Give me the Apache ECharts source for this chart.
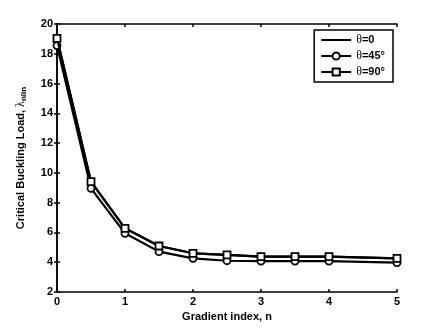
<!DOCTYPE html>
<html>
<head>
<meta charset="utf-8">
<script src="https://cdn.jsdelivr.net/npm/echarts@6/dist/echarts.min.js"></script>
<style>
  html, body { margin: 0; padding: 0; background: #fff; }
  #chart { width: 438px; height: 328px; }
</style>
</head>
<body>
<div id="chart"></div>
<script>
// gradient index values
const nValues = [0, 0.5, 1, 1.5, 2, 2.5, 3, 3.5, 4, 5];
// critical buckling load for each angle
const theta0 = [19.04, 9.41, 6.28, 5.09, 4.6, 4.49, 4.37, 4.37, 4.37, 4.26];
const theta45 = [18.55, 8.96, 5.94, 4.71, 4.26, 4.1, 4.08, 4.08, 4.08, 3.97];
const theta90 = [19.04, 9.41, 6.28, 5.09, 4.6, 4.49, 4.37, 4.37, 4.37, 4.26];
const xTicks = [0, 1, 2, 3, 4, 5];
const yTicks = [2, 4, 6, 8, 10, 12, 14, 16, 18, 20];

const font = "Liberation Sans, Arial, sans-serif";

function pairs(ys) {
  return nValues.map((n, i) => [n, ys[i]]);
}

let chart = echarts.init(document.getElementById("chart"));

const axisCommon = {
  axisLine: { show: true, lineStyle: { color: "#000", width: 1.5 } },
  axisTick: { show: true, inside: true, length: 3, lineStyle: { color: "#000", width: 1.5 } },
  splitLine: { show: false },
};

const hidden = "rgba(0,0,0,0)";

let option = {
  animation: false,
  backgroundColor: "#fff",
  grid: { left: 57, right: 41, top: 24, bottom: 36 },
  legend: {
    orient: "vertical",
    right: 45,
    top: 30,
    backgroundColor: "#fff",
    borderColor: "#000",
    borderWidth: 1.5,
    padding: [4, 8, 4, 6],
    itemGap: 4,
    itemWidth: 30,
    itemHeight: 9,
    textStyle: {
      fontFamily: font,
      fontWeight: "bold",
      fontSize: 11,
      color: "#000",
      rich: {
        t: { fontFamily: "Liberation Serif, serif", fontSize: 12, fontWeight: "normal", color: "#000" },
        b: { fontFamily: font, fontSize: 11, fontWeight: "bold", color: "#000" },
      },
    },
    formatter: function (name) {
      return "{t|θ}{b|" + name.slice(1) + "}";
    },
    data: [
      { name: "θ=0", itemStyle: { color: hidden, borderColor: hidden, borderWidth: 0 } },
      "θ=45°",
      "θ=90°",
    ],
  },
  xAxis: [
    Object.assign({}, axisCommon, {
      type: "value",
      min: xTicks[0],
      max: xTicks[xTicks.length - 1],
      interval: 1,
      name: "Gradient index, n",
      nameLocation: "middle",
      nameGap: 17,
      nameTextStyle: { fontFamily: font, fontWeight: "bold", fontSize: 11, color: "#000" },
      axisLabel: { margin: 4, fontFamily: font, fontWeight: "bold", fontSize: 11, color: "#000" },
    }),
    Object.assign({}, axisCommon, {
      type: "value",
      position: "top",
      min: xTicks[0],
      max: xTicks[xTicks.length - 1],
      interval: 1,
      axisLabel: { show: false },
    }),
  ],
  yAxis: [
    Object.assign({}, axisCommon, {
      type: "value",
      min: yTicks[0],
      max: yTicks[yTicks.length - 1],
      interval: 2,
      name: "{a|Critical Buckling Load, }{l|λ}{s|nlin}",
      nameLocation: "middle",
      nameGap: 29,
      nameTextStyle: {
        fontFamily: font,
        fontWeight: "bold",
        fontSize: 11,
        color: "#000",
        rich: {
          a: { fontFamily: font, fontWeight: "bold", fontSize: 11, color: "#000" },
          l: { fontFamily: "Liberation Serif, serif", fontWeight: "normal", fontSize: 12, color: "#000" },
          s: { fontFamily: font, fontWeight: "bold", fontSize: 8, color: "#000", verticalAlign: "bottom", padding: [6, 0, 0, 0] },
        },
      },
      axisLabel: { margin: 4, fontFamily: font, fontWeight: "bold", fontSize: 11, color: "#000" },
    }),
    Object.assign({}, axisCommon, {
      type: "value",
      position: "right",
      min: yTicks[0],
      max: yTicks[yTicks.length - 1],
      interval: 2,
      axisLabel: { show: false },
    }),
  ],
  series: [
    {
      name: "θ=0",
      type: "line",
      data: pairs(theta0),
      symbol: "none",
      lineStyle: { color: "#000", width: 2.2 },
      itemStyle: { color: "#000" },
      z: 1,
    },
    {
      name: "θ=45°",
      type: "line",
      data: pairs(theta45),
      symbol: "circle",
      symbolSize: 7,
      showAllSymbol: true,
      lineStyle: { color: "#000", width: 2.2 },
      itemStyle: { color: "#fff", borderColor: "#000", borderWidth: 1.8 },
      z: 2,
    },
    {
      name: "θ=90°",
      type: "line",
      data: pairs(theta90),
      symbol: "rect",
      symbolSize: 7,
      showAllSymbol: true,
      lineStyle: { color: "#000", width: 2.2 },
      itemStyle: { color: "#fff", borderColor: "#000", borderWidth: 1.8 },
      z: 3,
    },
  ],
};

chart.setOption(option);
</script>
</body>
</html>
